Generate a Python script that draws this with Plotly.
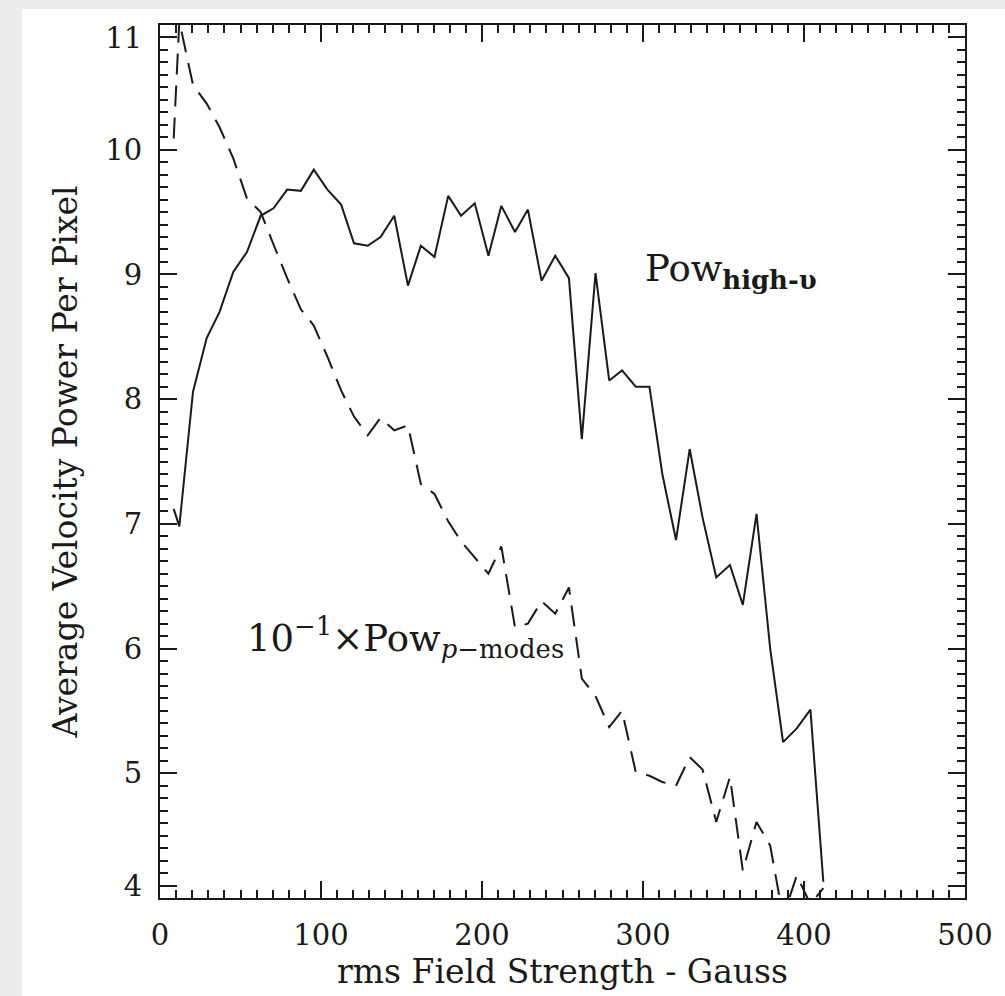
import numpy as np
import plotly.graph_objects as go

# rms field strength (Gauss) at each bin
field = [8.5, 12, 20.5, 29, 37, 45.5, 54, 62.5, 70.5, 79, 87.5, 95.5, 104, 112.5, 120.5,
         129, 137, 145.5, 154, 162, 170.5, 179, 187, 195.5, 204, 212, 220.5, 228.5, 237,
         245.5, 254, 262, 270.5, 279, 287, 295.5, 304, 312, 320.5, 329, 337, 345.5, 354,
         362, 370.5, 379, 387, 395.5, 404, 412]

# high-frequency power (solid)
pow_high = [7.12, 6.98, 8.06, 8.49, 8.70, 9.02, 9.18, 9.47, 9.53, 9.68, 9.67, 9.84, 9.68,
            9.56, 9.25, 9.23, 9.30, 9.47, 8.91, 9.23, 9.14, 9.63, 9.47, 9.57, 9.15, 9.55,
            9.34, 9.52, 8.95, 9.15, 8.97, 7.68, 9.01, 8.15, 8.23, 8.10, 8.10, 7.40, 6.87,
            7.60, 7.05, 6.57, 6.67, 6.35, 7.08, 6.00, 5.25, 5.36, 5.51, 4.13]

# 10^-1 x p-mode power (dashed)
pow_pmodes = [10.09, 11.03, 10.52, 10.37, 10.18, 9.93, 9.61, 9.50, 9.24, 8.97, 8.72, 8.59,
              8.34, 8.07, 7.86, 7.71, 7.85, 7.75, 7.79, 7.32, 7.24, 7.02, 6.86, 6.73, 6.60,
              6.82, 6.17, 6.20, 6.38, 6.28, 6.49, 5.76, 5.62, 5.37, 5.50, 5.01, 4.98, 4.93,
              4.90, 5.13, 5.03, 4.61, 4.97, 4.22, 4.61, 4.42, 3.85, 4.18, 3.95, 4.08]

x_tick_labels = ["0", "100", "200", "300", "400", "500"]
y_tick_labels = ["4", "5", "6", "7", "8", "9", "10", "11"]

INK = "#1a1a1a"
FONT = "DejaVu Serif"

fig = go.Figure()
fig.add_trace(go.Scatter(x=field, y=pow_high, mode="lines",
                         line=dict(color=INK, width=2), showlegend=False))
fig.add_trace(go.Scatter(x=field, y=pow_pmodes, mode="lines",
                         line=dict(color=INK, width=2, dash="21px,11px"), showlegend=False))

# white panel behind the chart
fig.add_shape(type="rect", xref="paper", yref="paper",
              x0=-0.1714, x1=1.2, y0=-0.3, y1=1.0183,
              fillcolor="white", line=dict(width=0), layer="below")

y_major = [4.1, 5, 6, 7, 8, 9, 10, 10.9]
y_minor = [round(v, 1) for v in np.arange(4.0, 11.001, 0.1)
           if not any(abs(v - m) < 1e-6 for m in y_major)]

fig.add_annotation(x=300, y=9.03, xref="x", yref="y", xanchor="left", yanchor="middle",
                   text="Pow<sub><b>high-υ</b></sub>", showarrow=False,
                   font=dict(family=FONT, size=37, color=INK))
fig.add_annotation(x=52.8, y=6.09, xref="x", yref="y", xanchor="left", yanchor="middle",
                   text="10<sup>−1</sup>×Pow<sub><i>p</i>−modes</sub>", showarrow=False,
                   font=dict(family=FONT, size=37, color=INK))

fig.update_layout(
    width=1005, height=996,
    margin=dict(l=160, r=40, t=25, b=98),
    paper_bgcolor="#ebebeb", plot_bgcolor="white",
    font=dict(family=FONT, color=INK),
    xaxis=dict(range=[0, 500], showgrid=False, zeroline=False,
               showline=True, linecolor=INK, linewidth=2, mirror="ticks",
               ticks="inside", ticklen=17, tickwidth=1.5, tickcolor=INK,
               tickmode="array", tickvals=[0, 100, 200, 300, 400, 500], ticktext=x_tick_labels,
               tickfont=dict(size=29, family=FONT, color=INK), ticklabelstandoff=10,
               minor=dict(ticks="inside", ticklen=8, tickwidth=1.5, tickcolor=INK,
                          dtick=10, tick0=0, showgrid=False),
               title=dict(text="rms Field Strength - Gauss", standoff=6,
                          font=dict(size=33, family=FONT, color=INK))),
    yaxis=dict(range=[4, 11], showgrid=False, zeroline=False,
               showline=True, linecolor=INK, linewidth=2, mirror="ticks",
               ticks="inside", ticklen=17, tickwidth=1.5, tickcolor=INK,
               tickmode="array", tickvals=y_major, ticktext=y_tick_labels,
               tickfont=dict(size=29, family=FONT, color=INK), ticklabelstandoff=10,
               minor=dict(ticks="inside", ticklen=8, tickwidth=1.5, tickcolor=INK,
                          tickvals=y_minor, showgrid=False),
               title=dict(text="Average Velocity Power Per Pixel", standoff=18,
                          font=dict(size=33, family=FONT, color=INK))),
)

fig.write_html("out.html")
